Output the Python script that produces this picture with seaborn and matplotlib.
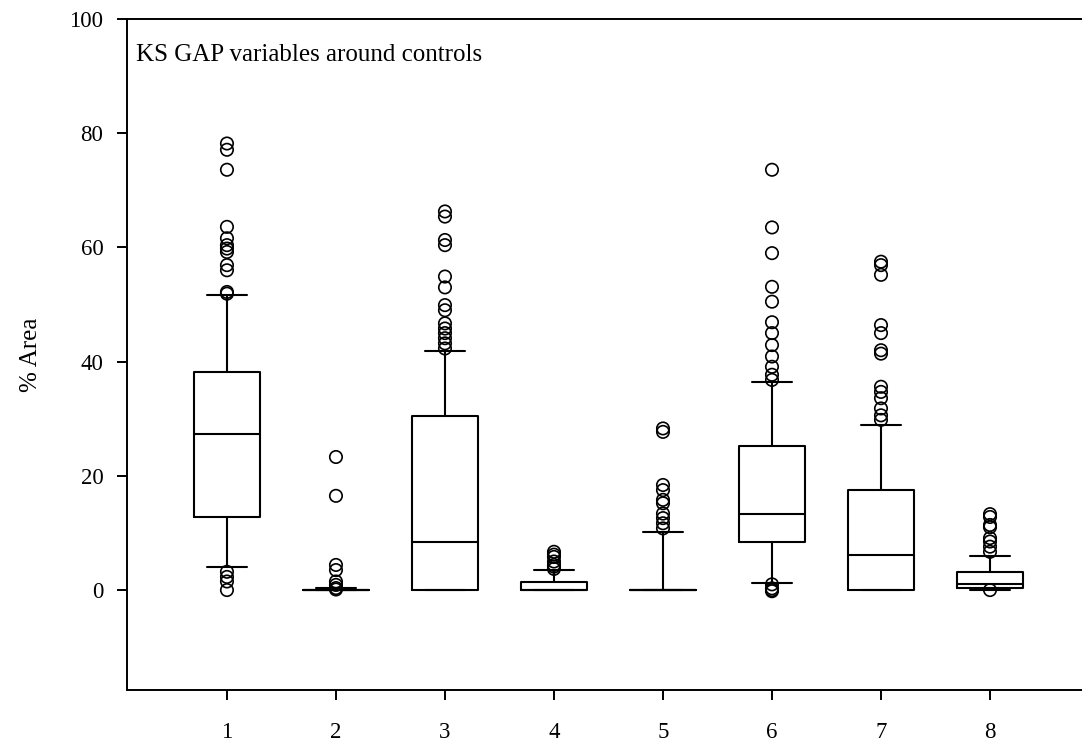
import numpy as np
import pandas as pd
import matplotlib
matplotlib.use("Agg")
import matplotlib.pyplot as plt
import seaborn as sns

# ---- data ----
categories = ["1", "2", "3", "4", "5", "6", "7", "8"]
q1 = [12.8, 0.0, 0.0, 0.0, 0.0, 8.4, 0.0, 0.3]
median = [27.3, 0.0, 8.4, 0.05, 0.0, 13.3, 6.1, 1.0]
q3 = [38.2, 0.0, 30.5, 1.4, 0.0, 25.2, 17.5, 3.2]
whisker_low = [4.0, 0.0, 0.0, 0.0, 0.0, 1.3, 0.0, 0.0]
whisker_high = [51.7, 0.4, 41.8, 3.5, 10.1, 36.5, 28.9, 6.0]

outliers_1 = [78.2, 77.1, 73.6, 63.6, 61.6, 60.4, 59.8, 59.2, 56.9, 56.0, 52.2, 51.9, 3.2, 2.3, 1.5, 0.0]
outliers_2 = [23.3, 16.5, 4.4, 3.5, 1.5, 0.9, 0.35, 0.1]
outliers_3 = [66.3, 65.4, 61.3, 60.4, 54.9, 53.0, 49.9, 49.0, 46.7, 45.8, 45.0, 44.1, 43.2, 42.3]
outliers_4 = [6.7, 6.2, 5.8, 5.0, 4.4, 4.1, 3.7]
outliers_5 = [28.3, 27.7, 18.4, 17.5, 15.8, 15.2, 13.4, 12.6, 11.7, 10.8]
outliers_6 = [73.6, 63.5, 59.0, 53.1, 50.5, 46.9, 45.0, 42.9, 40.9, 39.1, 37.7, 36.8, 1.0, 0.3, 0.0, -0.2]
outliers_7 = [57.5, 56.9, 55.2, 46.4, 45.0, 42.0, 41.4, 35.6, 34.7, 33.6, 31.8, 30.6, 29.8]
outliers_8 = [13.3, 12.8, 11.4, 11.0, 9.1, 8.5, 7.6, 6.7, 0.0]
outliers = [outliers_1, outliers_2, outliers_3, outliers_4,
            outliers_5, outliers_6, outliers_7, outliers_8]

title_text = "KS GAP variables around controls"
y_label = "% Area"
y_ticks = [0, 20, 40, 60, 80, 100]

# ---- style ----
sns.set_style("ticks")
plt.rcParams["font.family"] = ["Liberation Serif", "DejaVu Serif"]
plt.rcParams["text.color"] = "black"
plt.rcParams["axes.labelcolor"] = "black"
plt.rcParams["xtick.color"] = "black"
plt.rcParams["ytick.color"] = "black"

fig = plt.figure(figsize=(10.82, 7.48), dpi=100)
ax = fig.add_axes([127 / 1082, 58 / 748, (1082 - 127) / 1082, 671 / 748])

positions = np.arange(1, len(categories) + 1)
stats = []
for i in range(len(categories)):
    stats.append(dict(q1=q1[i], med=median[i], q3=q3[i],
                      whislo=whisker_low[i], whishi=whisker_high[i], fliers=[]))

lw = 1.5
ax.bxp(stats, positions=positions, widths=0.6, capwidths=0.36, showfliers=False,
       boxprops=dict(color="black", linewidth=lw),
       medianprops=dict(color="black", linewidth=lw),
       whiskerprops=dict(color="black", linewidth=lw),
       capprops=dict(color="black", linewidth=lw))

flier_df = pd.DataFrame({
    "pos": np.concatenate([[p] * len(o) for p, o in zip(positions, outliers)]),
    "value": np.concatenate(outliers),
})
sns.scatterplot(data=flier_df, x="pos", y="value", ax=ax, marker="o", s=80,
                facecolors="none", edgecolor="black", linewidth=1.2, zorder=3)

ax.set_xlim(0.083, 8.844)
ax.set_ylim(-17.5, 100)
ax.set_xticks(positions)
ax.set_xticklabels(categories)
ax.set_yticks(y_ticks)
ax.set_yticklabels([str(t) for t in y_ticks])
ax.set_xlabel("")
ax.set_ylabel(y_label, fontsize=18, labelpad=20)

for side in ["left", "bottom", "top"]:
    ax.spines[side].set_visible(True)
    ax.spines[side].set_linewidth(1.4)
    ax.spines[side].set_color("black")
ax.spines["right"].set_visible(False)

ax.tick_params(axis="both", direction="out", length=7, width=1.4,
               labelsize=16.5, colors="black")
ax.tick_params(axis="x", pad=16)
ax.tick_params(axis="y", pad=10)
ax.tick_params(top=False, right=False)

ax.text(0.009, 0.946, title_text, transform=ax.transAxes, fontsize=18,
        ha="left", va="center")

fig.savefig("out.png", dpi=100)
